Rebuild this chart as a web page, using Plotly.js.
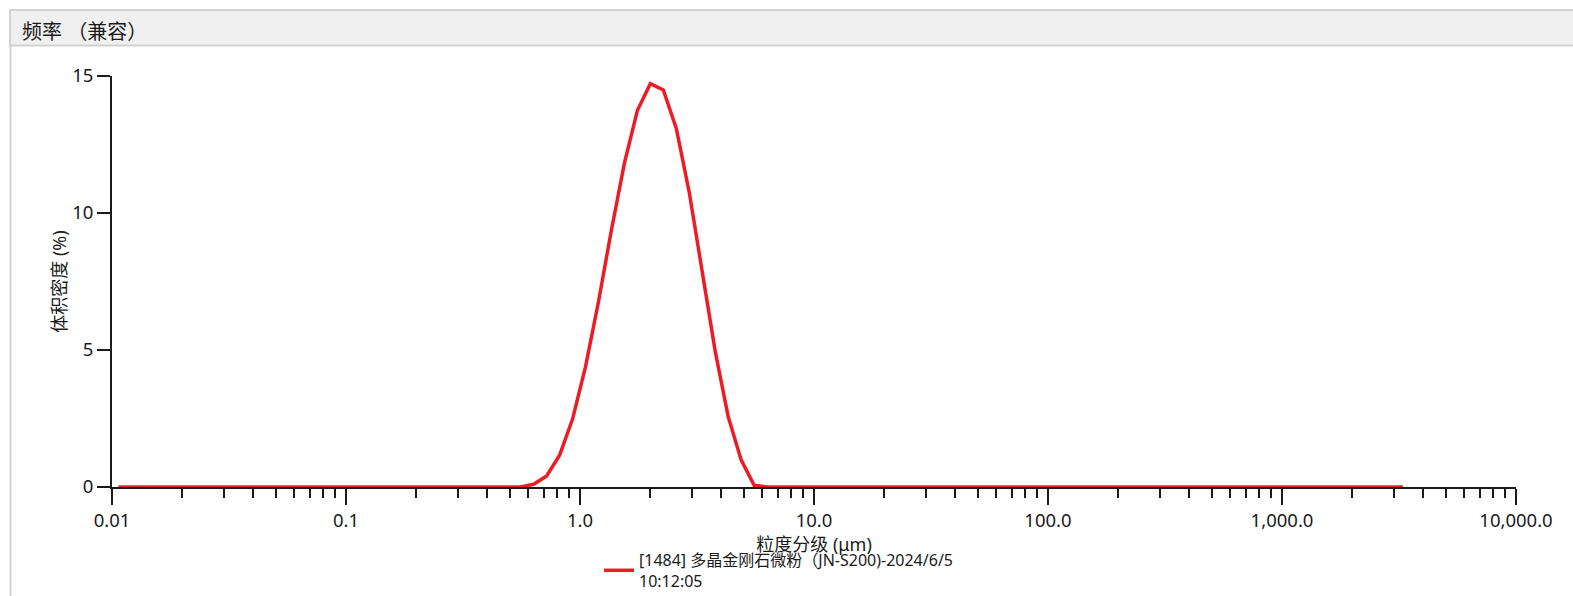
<!DOCTYPE html>
<html>
<head>
<meta charset="utf-8">
<script src="https://cdn.plot.ly/plotly-3.0.1.min.js"></script>
<style>
html,body{margin:0;padding:0;background:#fff;}
#chart{width:1573px;height:596px;}
</style>
</head>
<body>
<div id="chart"></div>
<script>
// Particle size class midpoints (µm)
const sizes = [
0.01066,0.01211,0.01376,0.01563,0.01776,0.02018,0.02293,0.02605,0.02960,0.03363,
0.03821,0.04341,0.04932,0.05604,0.06367,0.07234,0.08219,0.09338,0.1061,0.1205,
0.1369,0.1556,0.1768,0.2009,0.2282,0.2593,0.2946,0.3347,0.3803,0.4321,
0.4909,0.5578,0.6337,0.7200,0.8180,0.9294,1.056,1.200,1.363,1.549,
1.760,1.999,2.271,2.581,2.932,3.331,3.785,4.300,4.886,5.551,
6.307,7.166,8.141,9.250,10.51,11.94,13.57,15.41,17.51,19.89,
22.60,25.68,29.18,33.15,37.67,42.80,48.62,55.25,62.77,71.32,
81.03,92.06,104.6,118.8,135.0,153.4,174.3,198.0,225.0,255.6,
290.4,330.0,374.9,425.9,483.9,549.8,624.7,709.8,806.4,916.2,
1041,1183,1344,1527,1735,1971,2239,2544,2891,3284
];
// Volume density (%)
const density = [
0,0,0,0,0,0,0,0,0,0,
0,0,0,0,0,0,0,0,0,0,
0,0,0,0,0,0,0,0,0,0,
0,0,0.10,0.40,1.16,2.48,4.39,6.77,9.39,11.83,
13.75,14.72,14.49,13.08,10.74,7.81,4.94,2.56,0.98,0.06,
0,0,0,0,0,0,0,0,0,0,
0,0,0,0,0,0,0,0,0,0,
0,0,0,0,0,0,0,0,0,0,
0,0,0,0,0,0,0,0,0,0,
0,0,0,0,0,0,0,0,0,0
];
const xTickVals = [0.01,0.1,1,10,100,1000,10000];
const xTickText = ["0.01","0.1","1.0","10.0","100.0","1,000.0","10,000.0"];
const yTickVals = [0,5,10,15];
const seriesName = "[1484] 多晶金刚石微粉（JN-S200)-2024/6/5<br>10:12:05";
const panelTitle = "频率 （兼容）";
const xTitle = "粒度分级 (μm)";
const yTitle = "体积密度 (%)";

// minor tick positions (2..9 within each decade)
const minorVals = [];
for (let e = -2; e < 4; e++) for (let m = 2; m <= 9; m++) minorVals.push(m * Math.pow(10, e));

const W = 1573, H = 596;
const M = {l:112, r:57, t:76, b:109, autoexpand: false};
const PW = W - M.l - M.r, PH = H - M.t - M.b;
const px = x => (x - M.l) / PW;
const py = y => (H - M.b - y) / PH;

const FONT = "Noto Sans, Noto Sans CJK SC, sans-serif";
const INK = '#1a1a1a';

const trace = {
  x: sizes, y: density, type: 'scatter', mode: 'lines',
  name: seriesName,
  line: {color: '#ed1c24', width: 3.5},
  cliponaxis: false
};

const layout = {
  width: W, height: H,
  margin: M,
  paper_bgcolor: '#ffffff', plot_bgcolor: '#ffffff',
  font: {family: FONT, size: 17, color: INK},
  showlegend: true,
  legend: {
    x: px(599), y: py(543), xanchor: 'left', yanchor: 'top',
    font: {family: FONT, size: 16, color: INK},
    bgcolor: 'rgba(0,0,0,0)', tracegroupgap: 0
  },
  xaxis: {
    type: 'log', range: [-2, 4],
    tickmode: 'array', tickvals: xTickVals, ticktext: xTickText,
    ticks: 'outside', ticklen: 16, tickwidth: 2, tickcolor: INK,
    showline: true, linecolor: INK, linewidth: 2,
    showgrid: false, zeroline: false, automargin: false,
    tickfont: {family: FONT, size: 18.5, color: INK},
    minor: {tickmode: 'array', tickvals: minorVals, ticks: 'outside', ticklen: 9, tickwidth: 2, tickcolor: INK, showgrid: false},
    title: {text: xTitle, font: {family: FONT, size: 18, color: INK}, standoff: 1}
  },
  yaxis: {
    range: [0, 15],
    tickmode: 'array', tickvals: yTickVals,
    ticks: 'outside', ticklen: 13, tickwidth: 2, tickcolor: INK,
    showline: true, linecolor: INK, linewidth: 2,
    showgrid: false, zeroline: false, automargin: false,
    tickfont: {family: FONT, size: 18.5, color: INK},
    title: {text: yTitle, font: {family: FONT, size: 18, color: INK}, standoff: 1}
  },
  shapes: [
    {type: 'rect', xref: 'paper', yref: 'paper', x0: px(10), x1: px(1600), y0: py(45.5), y1: py(10),
     fillcolor: '#f0f0f0', line: {color: '#d2d2d2', width: 2}, layer: 'below'},
    {type: 'line', xref: 'paper', yref: 'paper', x0: px(10.5), x1: px(10.5), y0: py(45.5), y1: py(620),
     line: {color: '#d2d2d2', width: 2}}
  ],
  annotations: [
    {xref: 'paper', yref: 'paper', x: px(20), y: py(31), xanchor: 'left', yanchor: 'middle',
     text: panelTitle, showarrow: false, font: {family: FONT, size: 20, color: INK}}
  ]
};

Plotly.newPlot('chart', [trace], layout, {displayModeBar: false, staticPlot: true});
</script>
</body>
</html>
